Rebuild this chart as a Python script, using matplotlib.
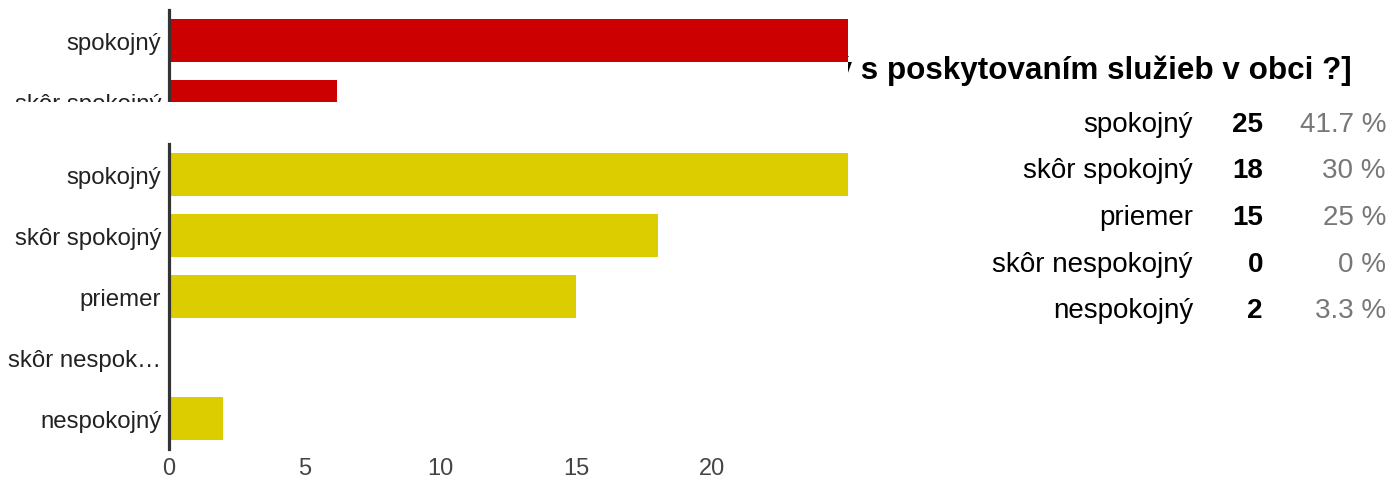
import matplotlib.pyplot as plt
from matplotlib.patches import Rectangle

plt.rcParams['font.family'] = ['Liberation Sans', 'DejaVu Sans']

# data
categories = ['spokojný', 'skôr spokojný', 'priemer', 'skôr nespokojný', 'nespokojný']
axis_labels = ['spokojný', 'skôr spokojný', 'priemer', 'skôr nespok…', 'nespokojný']
counts = [25, 18, 15, 0, 2]
percents = ['41.7 %', '30 %', '25 %', '0 %', '3.3 %']
xticks = [0, 5, 10, 15, 20]

# previous question's chart (cut off at the top of the screenshot)
prev_labels = ['spokojný', 'skôr spokojný']
prev_counts = [25, 6.2]

title = 'spokojný s poskytovaním služieb v obci ?]'

W, H = 1390, 481
RED = '#cc0000'
YELLOW = '#dccd00'


def fx(px):
    return px / W


def fy(py):
    return 1 - py / H


fig = plt.figure(figsize=(W / 100, H / 100), dpi=100)

# title sits behind the top chart, only its right part shows
fig.text(fx(1352), fy(79), title, ha='right', va='baseline', fontsize=22.6,
         fontweight='bold', color='#000000', zorder=0.5)


def style_axes(ax):
    for s in ('top', 'right', 'bottom'):
        ax.spines[s].set_visible(False)
    ax.spines['left'].set_color('#333333')
    ax.spines['left'].set_linewidth(2.3)
    ax.tick_params(axis='both', length=0)
    ax.tick_params(axis='y', pad=5.5, labelsize=17.3, labelcolor='#222222')
    ax.tick_params(axis='x', pad=6, labelsize=17, labelcolor='#444444')


band = 61.0

# top red chart, clipped
ax_top = fig.add_axes([fx(169), fy(104), fx(848 - 169), (104 - 11) / H])
ax_top.set_zorder(1)
ax_top.barh(range(len(prev_counts)), prev_counts, height=0.7, color=RED)
ax_top.set_xlim(0, 25)
ax_top.set_ylim(-0.5 + (104 - 11) / band, -0.5)
ax_top.set_yticks(range(len(prev_labels)), prev_labels)
ax_top.set_xticks([])
style_axes(ax_top)

# white band hiding the overflow of the top chart
fig.add_artist(Rectangle((0, fy(145)), fx(848), (145 - 103) / H,
                         transform=fig.transFigure, facecolor='white',
                         edgecolor='none', zorder=1.5))

# main yellow chart
ax = fig.add_axes([fx(169), fy(450), fx(848 - 169), (450 - 145) / H])
ax.set_zorder(2)
ax.barh(range(len(counts)), counts, height=0.7, color=YELLOW)
ax.set_xlim(0, 25)
ax.set_ylim(len(counts) - 0.5, -0.5)
ax.set_yticks(range(len(axis_labels)), axis_labels)
ax.set_xticks(xticks, [str(t) for t in xticks])
ax.patch.set_alpha(0)
style_axes(ax)

# summary table on the right
row_y = [125, 171.5, 218, 264.5, 311]
for name, n, p, y in zip(categories, counts, percents, row_y):
    fig.text(fx(1193), fy(y), name, ha='right', va='center', fontsize=20,
             color='#000000')
    fig.text(fx(1263), fy(y), str(n), ha='right', va='center', fontsize=20,
             fontweight='bold', color='#000000')
    fig.text(fx(1386), fy(y), p, ha='right', va='center', fontsize=20,
             color='#777777')

fig.savefig('out.png', dpi=100)
